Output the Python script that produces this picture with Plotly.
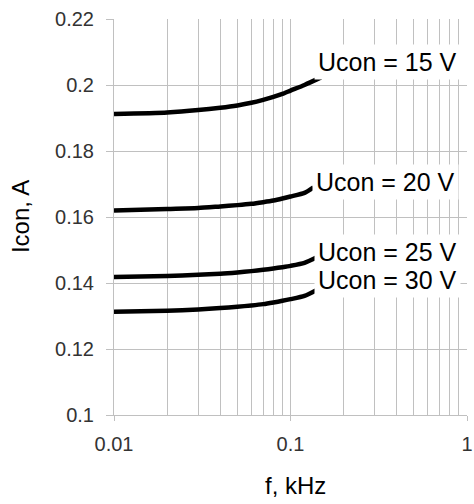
import numpy as np
import plotly.graph_objects as go

freq_15 = [0.01, 0.02, 0.03, 0.04, 0.05, 0.06, 0.07, 0.08, 0.09, 0.1, 0.12, 0.149]
freq_20 = [0.01, 0.02, 0.03, 0.04, 0.05, 0.06, 0.07, 0.08, 0.09, 0.1, 0.12, 0.135]
freq_25 = [0.01, 0.02, 0.03, 0.04, 0.05, 0.06, 0.07, 0.08, 0.09, 0.1, 0.12, 0.141]
freq_30 = [0.01, 0.02, 0.03, 0.04, 0.05, 0.06, 0.07, 0.08, 0.09, 0.1, 0.12, 0.141]
i_15 = [0.1912, 0.1917, 0.1924, 0.1931, 0.1938, 0.1946, 0.1955, 0.1964, 0.1973, 0.1983, 0.2000, 0.2023]
i_20 = [0.1620, 0.1624, 0.1627, 0.1632, 0.1636, 0.1640, 0.1645, 0.1650, 0.1656, 0.1662, 0.1673, 0.1690]
i_25 = [0.1418, 0.1421, 0.1425, 0.1428, 0.1432, 0.1436, 0.1440, 0.1444, 0.1448, 0.1452, 0.1461, 0.1478]
i_30 = [0.1313, 0.1316, 0.1320, 0.1324, 0.1328, 0.1332, 0.1336, 0.1341, 0.1346, 0.1351, 0.1361, 0.1379]
series = [("Ucon = 15 V", freq_15, i_15), ("Ucon = 20 V", freq_20, i_20),
          ("Ucon = 25 V", freq_25, i_25), ("Ucon = 30 V", freq_30, i_30)]
label_x = [0.136, 0.133, 0.136, 0.136]
label_y = [0.2070, 0.1705, 0.1495, 0.1409]

major_ticks = [0.01, 0.1, 1]
major_text = ["0.01", "0.1", "1"]
minor_ticks = [0.02, 0.03, 0.04, 0.05, 0.06, 0.07, 0.08, 0.09,
               0.2, 0.3, 0.4, 0.5, 0.6, 0.7, 0.8, 0.9]

FONT = "Liberation Sans, Arial, sans-serif"
GRID = "#c0c0c0"

fig = go.Figure()
for name, fx, vals in series:
    fig.add_trace(go.Scatter(x=fx, y=vals, mode="lines", name=name,
                             line=dict(color="black", width=4.5, shape="spline", smoothing=0.6),
                             showlegend=False))

for (name, _, _), lx, ly in zip(series, label_x, label_y):
    fig.add_annotation(x=np.log10(lx), y=ly, xref="x", yref="y", text=name,
                       showarrow=False, xanchor="left", yanchor="middle",
                       bgcolor="white", borderpad=3,
                       font=dict(family=FONT, size=25, color="black"))

fig.add_annotation(x=0.513, y=-0.177, xref="paper", yref="paper", text="f, kHz",
                   showarrow=False, xanchor="center", yanchor="middle",
                   font=dict(family=FONT, size=24, color="black"))
fig.add_annotation(x=-0.266, y=0.5, xref="paper", yref="paper", text="Icon, A",
                   showarrow=False, xanchor="center", yanchor="middle", textangle=-90,
                   font=dict(family=FONT, size=24, color="black"))

fig.update_xaxes(type="log", range=[-2, 0], automargin=False,
                 tickmode="array", tickvals=major_ticks, ticktext=major_text,
                 showgrid=True, gridcolor=GRID, gridwidth=1,
                 showline=True, linecolor=GRID, linewidth=1,
                 ticks="outside", ticklen=5, tickcolor=GRID,
                 ticklabelstandoff=6,
                 tickfont=dict(family=FONT, size=20, color="#333333"),
                 minor=dict(tickmode="array", tickvals=minor_ticks, showgrid=True,
                            gridcolor=GRID, gridwidth=1, ticks=""),
                 zeroline=False)
fig.update_yaxes(range=[0.1, 0.22], dtick=0.02, tickformat="~g", automargin=False,
                 showgrid=True, gridcolor=GRID, gridwidth=1,
                 showline=True, linecolor=GRID, linewidth=1,
                 ticks="outside", ticklen=7, tickcolor=GRID,
                 ticklabelstandoff=8,
                 tickfont=dict(family=FONT, size=20, color="#333333"),
                 zeroline=False)

fig.update_layout(width=474, height=504,
                  margin=dict(l=114, r=7, t=19, b=89),
                  plot_bgcolor="white", paper_bgcolor="white")
fig.write_html("out.html")
